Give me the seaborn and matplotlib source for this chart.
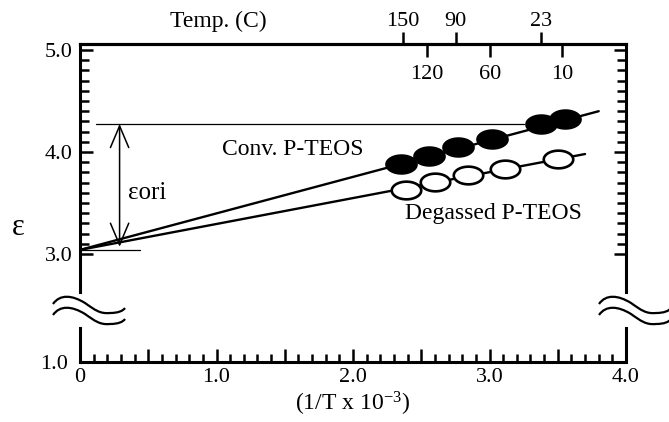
import numpy as np
import matplotlib
matplotlib.use("Agg")
import matplotlib.pyplot as plt
import matplotlib.ticker as mticker
import matplotlib.transforms as mtransforms
from matplotlib.path import Path
from matplotlib.patches import PathPatch
import seaborn as sns

# values; x = 1/T x 10^-3, y = epsilon
conv_x = [2.35, 2.56, 2.77, 3.02, 3.38, 3.55]
conv_y = [3.88, 3.96, 4.05, 4.13, 4.27, 4.32]
degas_x = [2.39, 2.60, 2.84, 3.11, 3.50]
degas_y = [3.63, 3.71, 3.77, 3.83, 3.93]

# the straight lines through each set, back to 1/T = 0
conv_line_x = [0.0, 3.80]
conv_line_y = [3.04, 4.40]
degas_line_x = [0.0, 3.70]
degas_line_y = [3.04, 3.98]

# eps_ori marking
eps_top = 4.275
eps_top_x = [0.12, 3.25]
eps_base = 3.035
eps_base_x = [0.0, 0.44]
arrow_x = 0.29
arrow_y = [3.07, 4.275]

# temperature scale on top (deg C)
temps_above = [150, 90, 23]
temps_below = [120, 60, 10]

x_ticks = [0, 0.5, 1.0, 1.5, 2.0, 2.5, 3.0, 3.5, 4.0]
x_ticklabels = ["0", "", "1.0", "", "2.0", "", "3.0", "", "4.0"]
y_ticks = [3.0, 4.0, 5.0]
y_ticklabels = ["3.0", "4.0", "5.0"]
y_low_ticks = [1.0]
y_low_ticklabels = ["1.0"]

sns.set_theme(style="white", rc={
    "axes.edgecolor": "black", "xtick.color": "black", "ytick.color": "black",
    "text.color": "black", "axes.labelcolor": "black", "mathtext.default": "regular",
})
plt.rcParams["font.family"] = ["Liberation Serif", "DejaVu Serif"]

W, H = 669, 422
L, R = 80, 626
fig = plt.figure(figsize=(W / 100, H / 100), dpi=100)


def box(top, bottom):
    return [L / W, 1 - bottom / H, (R - L) / W, (bottom - top) / H]


ax = fig.add_axes(box(44, 292))
axb = fig.add_axes(box(328, 362))

LW = 1.7
sns.lineplot(x=conv_line_x, y=conv_line_y, ax=ax, color="black", lw=LW, estimator=None, sort=False)
sns.lineplot(x=degas_line_x, y=degas_line_y, ax=ax, color="black", lw=LW, estimator=None, sort=False)

t = np.linspace(0, 2 * np.pi, 80)
ellipse = Path(np.column_stack([np.cos(t), 0.6 * np.sin(t)]), closed=True)
sns.scatterplot(x=conv_x, y=conv_y, ax=ax, marker=ellipse, s=480, color="black",
                edgecolor="black", linewidth=1.6, zorder=3)
sns.scatterplot(x=degas_x, y=degas_y, ax=ax, marker=ellipse, s=450, color="white",
                edgecolor="black", linewidth=1.9, zorder=3)

ax.plot(eps_top_x, [eps_top, eps_top], color="black", lw=0.9)
ax.plot(eps_base_x, [eps_base, eps_base], color="black", lw=0.9)
ax.annotate("", xy=(arrow_x, arrow_y[1]), xytext=(arrow_x, arrow_y[0]),
            arrowprops=dict(arrowstyle="<->,head_length=1.3,head_width=0.55",
                            lw=1.1, color="black", shrinkA=0, shrinkB=0))

ax.text(1.04, 4.02, "Conv. P-TEOS", fontsize=17, va="center", ha="left")
ax.text(2.38, 3.40, "Degassed P-TEOS", fontsize=17, va="center", ha="left")
ax.text(0.35, 3.60, "εori", fontsize=18, va="center", ha="left")
ax.text(0.253, 1.093, "Temp. (C)", fontsize=17, ha="center", va="center", transform=ax.transAxes)

# upper part of the broken axis
ax.set_xlim(0, 4.0)
ax.set_ylim(2.627, 5.059)
ax.set_xlabel("")
ax.set_yticks(y_ticks, y_ticklabels)
ax.yaxis.set_minor_locator(mticker.FixedLocator(np.round(np.arange(3.0, 5.001, 0.1), 2)))
ax.tick_params(axis="y", which="both", direction="in", left=True, right=True,
               width=1.8, labelsize=16, pad=5.5)
ax.tick_params(axis="y", which="major", length=9)
ax.tick_params(axis="y", which="minor", length=6.5)
ax.tick_params(axis="x", which="both", bottom=False, top=False, labelbottom=False)
ax.spines["bottom"].set_visible(False)
ax.set_ylabel("ε", rotation=0, fontsize=22)
ax.yaxis.label.set_va("center")
ax.yaxis.set_label_coords(-0.1136, 0.262)


def x_to_temp(x):
    x = np.clip(np.asarray(x, dtype=float), 1e-3, None)
    return 1000.0 / x - 273.15


def temp_to_x(tc):
    return 1000.0 / (np.asarray(tc, dtype=float) + 273.15)


sec_up = ax.secondary_xaxis("top", functions=(x_to_temp, temp_to_x))
sec_up.set_xticks(temps_above, [str(v) for v in temps_above])
sec_up.tick_params(direction="out", length=9, width=1.8, labelsize=16, pad=0)
sec_dn = ax.secondary_xaxis("top", functions=(x_to_temp, temp_to_x))
sec_dn.set_xticks(temps_below, [str(v) for v in temps_below])
sec_dn.tick_params(direction="in", length=9, width=1.8, labelsize=16, pad=-29)

# lower part of the broken axis
axb.set_xlim(0, 4.0)
axb.set_ylim(1.0, 1.333)
axb.set_xticks(x_ticks, x_ticklabels)
axb.xaxis.set_minor_locator(mticker.MultipleLocator(0.1))
axb.tick_params(axis="x", which="both", direction="in", top=False, bottom=True,
                width=1.8, labelsize=16, pad=4.3)
axb.tick_params(axis="x", which="major", length=9.5)
axb.tick_params(axis="x", which="minor", length=6)
axb.set_yticks(y_low_ticks, y_low_ticklabels)
axb.tick_params(axis="y", length=0, labelsize=16, pad=8.5)
axb.spines["top"].set_visible(False)
axb.set_xlabel("(1/T x 10$^{-3}$)", fontsize=17, labelpad=2)

for a in (ax, axb, sec_up, sec_dn):
    for sp in a.spines.values():
        sp.set_linewidth(2.2)

# break marks on both sides (pixel offsets from the spine)
wave = [(-27, 304), (-20, 294), (-8, 295), (5, 303), (15, 310), (20, 314), (30, 313),
        (38, 313), (43, 311), (45, 308)]
codes = [Path.MOVETO] + [Path.CURVE4] * 9
for spine_px in (L, R):
    tr = mtransforms.Affine2D().translate(spine_px, 0).scale(1 / W, -1 / H).translate(0, 1) + fig.transFigure
    for dy in (0, 11):
        verts = [(dx, py + dy) for dx, py in wave]
        fig.add_artist(PathPatch(Path(verts, codes), fill=False, lw=1.6,
                                 edgecolor="black", transform=tr))

fig.savefig("out.png", dpi=100)
